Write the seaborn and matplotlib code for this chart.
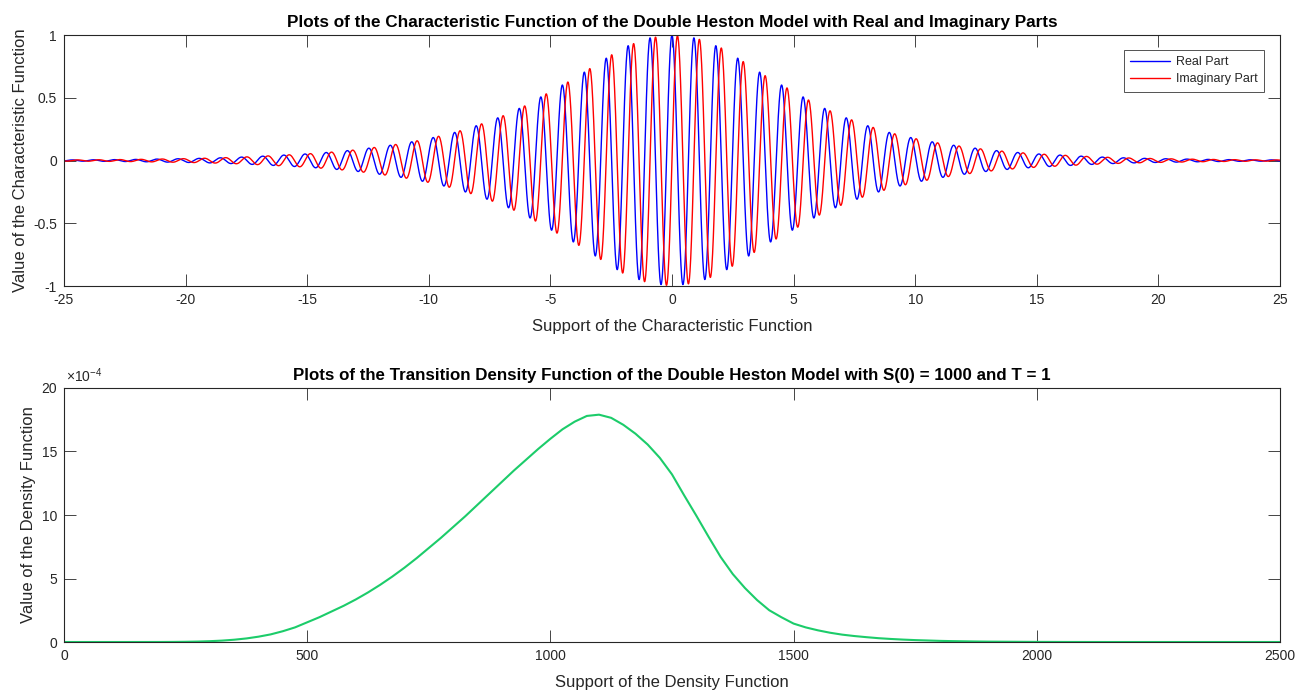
import numpy as np
import pandas as pd
import matplotlib
matplotlib.use("Agg")
import matplotlib.pyplot as plt
import seaborn as sns

# Modulus |phi(u)| of the characteristic function at whole-number u (even in u)
env_u = [0, 1, 2, 3, 4, 5, 6, 7, 8, 9, 10, 11, 12, 13, 14, 15, 16, 17, 18, 19,
         20, 21, 22, 23, 24, 25]
env_mod = [1.000, 0.975, 0.900, 0.780, 0.655, 0.550, 0.440, 0.352, 0.280, 0.220,
           0.175, 0.138, 0.110, 0.085, 0.067, 0.053, 0.043, 0.033, 0.025, 0.019,
           0.015, 0.012, 0.009, 0.007, 0.0055, 0.0045]

# Phase of phi(u): number of full turns completed at each u >= 0
cycle_u = [0.0, 4.51, 8.94, 13.35, 17.70, 22.05, 25.0]
cycle_n = [0, 5, 10, 15, 20, 25, 28.4]

# Transition density of S(T) on a grid of 25, in units of 1e-4
density_s = list(range(0, 2501, 25))
density_e4 = [
    0.0, 0.0, 0.0, 0.0, 0.0, 0.0, 0.001, 0.002, 0.003, 0.008,
    0.018, 0.035, 0.065, 0.11, 0.18, 0.28, 0.42, 0.6, 0.85, 1.15,
    1.55, 1.95, 2.4, 2.85, 3.35, 3.9, 4.5, 5.15, 5.85, 6.6,
    7.4, 8.2, 9.05, 9.9, 10.8, 11.7, 12.6, 13.5, 14.35, 15.2,
    16.0, 16.75, 17.35, 17.8, 17.9, 17.65, 17.1, 16.4, 15.55, 14.5,
    13.2, 11.55, 9.95, 8.3, 6.7, 5.35, 4.25, 3.3, 2.5, 1.95,
    1.45, 1.15, 0.92, 0.73, 0.58, 0.47, 0.38, 0.3, 0.24, 0.19,
    0.15, 0.12, 0.09, 0.07, 0.055, 0.04, 0.03, 0.025, 0.02, 0.015,
    0.01, 0.008, 0.005, 0.003, 0.002, 0.001, 0.0, 0.0, 0.0, 0.0,
    0.0, 0.0, 0.0, 0.0, 0.0, 0.0, 0.0, 0.0, 0.0, 0.0,
    0.0,
]

sns.set_style("white")
plt.rcParams["font.family"] = ["Liberation Sans", "DejaVu Sans"]
plt.rcParams["axes.unicode_minus"] = False
plt.rcParams["mathtext.fontset"] = "custom"
plt.rcParams["mathtext.rm"] = "Liberation Sans"
plt.rcParams["mathtext.it"] = "Liberation Sans"

INK = "#262626"

# Characteristic function on a fine grid of u
u = np.linspace(-25, 25, 5001)
mod = np.interp(np.abs(u), env_u, env_mod)
theta = 2 * np.pi * np.sign(u) * np.interp(np.abs(u), cycle_u, cycle_n)
phi = mod * np.exp(1j * theta)
cf = pd.DataFrame({"u": u, "Real Part": phi.real, "Imaginary Part": phi.imag})
cf = cf.melt(id_vars="u", var_name="part", value_name="value")

dens = pd.DataFrame({"s": density_s, "f": density_e4})

fig = plt.figure(figsize=(12.97, 6.91), dpi=100)
ax1 = fig.add_axes([0.0493, 0.5861, 0.9376, 0.3632])
ax2 = fig.add_axes([0.0493, 0.0709, 0.9376, 0.3676])

sns.lineplot(data=cf, x="u", y="value", hue="part",
             hue_order=["Real Part", "Imaginary Part"],
             palette={"Real Part": "#0000ff", "Imaginary Part": "#ff0000"},
             estimator=None, linewidth=1.0, ax=ax1)
ax1.set_xlim(-25, 25)
ax1.set_ylim(-1, 1)
ax1.set_xticks(range(-25, 26, 5))
ax1.set_yticks([-1, -0.5, 0, 0.5, 1])
ax1.set_yticklabels(["-1", "-0.5", "0", "0.5", "1"])
ax1.set_title("Plots of the Characteristic Function of the Double Heston Model "
              "with Real and Imaginary Parts", fontsize=12.3, fontweight="bold",
              pad=5.5, color="black")
ax1.set_xlabel("Support of the Characteristic Function", fontsize=12,
               color=INK, labelpad=9)
ax1.set_ylabel("Value of the Characteristic Function", fontsize=12, color=INK)
leg = ax1.legend(loc="upper right", bbox_to_anchor=(0.987, 0.94), fontsize=9,
                 frameon=True, fancybox=False, handlelength=3.2,
                 borderpad=0.5, labelspacing=0.4, handletextpad=0.5,
                 borderaxespad=0)
leg.get_frame().set_edgecolor(INK)
leg.get_frame().set_linewidth(0.7)
for line in leg.get_lines():
    line.set_linewidth(1.0)

sns.lineplot(data=dens, x="s", y="f", color="#1ccc6a", linewidth=1.5, ax=ax2)
ax2.set_xlim(0, 2500)
ax2.set_ylim(0, 20)
ax2.set_xticks([0, 500, 1000, 1500, 2000, 2500])
ax2.set_yticks([0, 5, 10, 15, 20])
ax2.set_title("Plots of the Transition Density Function of the Double Heston "
              "Model with S(0) = 1000 and T = 1", fontsize=12.2,
              fontweight="bold", pad=5.5, color="black")
ax2.set_xlabel("Support of the Density Function", fontsize=12, color=INK,
               labelpad=9)
ax2.set_ylabel("Value of the Density Function", fontsize=12, color=INK)
ax2.text(0.002, 1.012, r"$\times\mathrm{10}^{-4}$", transform=ax2.transAxes,
         fontsize=10, color=INK, ha="left", va="bottom")

for ax in (ax1, ax2):
    ax.tick_params(direction="in", length=8.6, width=0.6, top=True, right=True,
                   bottom=True, left=True, labelsize=10, color=INK,
                   labelcolor=INK, pad=5)
    for sp in ax.spines.values():
        sp.set_visible(True)
        sp.set_color(INK)
        sp.set_linewidth(0.8)

fig.savefig("out.png", dpi=100)
